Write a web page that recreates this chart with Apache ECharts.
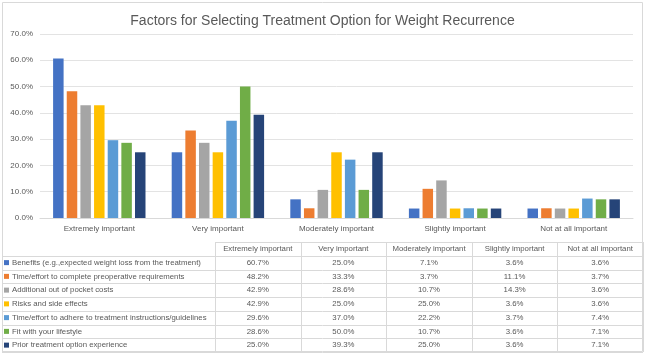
<!DOCTYPE html>
<html>
<head>
<meta charset="utf-8">
<script src="https://cdn.jsdelivr.net/npm/echarts@6/dist/echarts.min.js"></script>
<style>html,body{margin:0;padding:0;background:#fff}#c{width:645px;height:354px}</style>
</head>
<body>
<div id="c"></div>
<script>
const categories = ['Extremely important','Very important','Moderately important','Slightly important','Not at all important'];
const seriesNames = [
  'Benefits (e.g.,expected weight loss from the treatment)',
  'Time/effort to complete preoperative requirements',
  'Additional out of pocket costs',
  'Risks and side effects',
  'Time/effort to adhere to treatment instructions/guidelines',
  'Fit with your lifestyle',
  'Prior treatment option experience'
];
const benefits   = [60.7, 25.0, 7.1, 3.6, 3.6];
const timePreop  = [48.2, 33.3, 3.7, 11.1, 3.7];
const costs      = [42.9, 28.6, 10.7, 14.3, 3.6];
const risks      = [42.9, 25.0, 25.0, 3.6, 3.6];
const adhere     = [29.6, 37.0, 22.2, 3.7, 7.4];
const lifestyle  = [28.6, 50.0, 10.7, 3.6, 7.1];
const prior      = [25.0, 39.3, 25.0, 3.6, 7.1];
const yTicks = [0, 10, 20, 30, 40, 50, 60, 70];

const seriesData = [benefits, timePreop, costs, risks, adhere, lifestyle, prior];
const colors = ['#4472C4','#ED7D31','#A5A5A5','#FFC000','#5B9BD5','#70AD47','#264478'];
const FONT = '"Liberation Sans", Arial, sans-serif';
const TXT = '#595959';

// table layout
const tblTop = 242, rowH = 13.75, firstColL = 2, firstColR = 215, colW = 85.6;
const graphics = [];
graphics.push({type:'rect', shape:{x:2.5,y:2.5,width:640,height:349}, style:{fill:'none', stroke:'#d9d9d9', lineWidth:1}, silent:true});
const nRows = seriesNames.length + 1;
const tblRight = firstColR + colW * categories.length;
const tblBottom = tblTop + rowH * nRows;
for (let r = 0; r <= nRows; r++) {
  const y = Math.round(tblTop + r * rowH) + 0.5;
  const x1 = r === 0 ? firstColR : firstColL;
  graphics.push({type:'line', shape:{x1:x1, y1:y, x2:tblRight, y2:y}, style:{stroke:'#d9d9d9', lineWidth:1}, silent:true});
}
graphics.push({type:'line', shape:{x1:firstColL+0.5, y1:tblTop+rowH, x2:firstColL+0.5, y2:tblBottom}, style:{stroke:'#d9d9d9', lineWidth:1}, silent:true});
for (let c = 0; c <= categories.length; c++) {
  const x = Math.round(firstColR + c * colW) + 0.5;
  graphics.push({type:'line', shape:{x1:x, y1:tblTop, x2:x, y2:tblBottom}, style:{stroke:'#d9d9d9', lineWidth:1}, silent:true});
}
categories.forEach((cat, c) => {
  graphics.push({type:'text', x: firstColR + (c + 0.5) * colW, y: tblTop + rowH / 2,
    style:{text:cat, fill:TXT, font:'7.8px ' + FONT, align:'center', verticalAlign:'middle'}, silent:true});
});
seriesNames.forEach((name, r) => {
  const cy = tblTop + (r + 1.5) * rowH;
  graphics.push({type:'rect', shape:{x:4, y:cy-2.5, width:5, height:5}, style:{fill:colors[r]}, silent:true});
  graphics.push({type:'text', x:12, y:cy, style:{text:name, fill:TXT, font:'7.8px ' + FONT, align:'left', verticalAlign:'middle'}, silent:true});
  seriesData[r].forEach((v, c) => {
    graphics.push({type:'text', x: firstColR + (c + 0.5) * colW, y: cy,
      style:{text:v.toFixed(1) + '%', fill:TXT, font:'7.8px ' + FONT, align:'center', verticalAlign:'middle'}, silent:true});
  });
});

const chart = echarts.init(document.getElementById('c'));
chart.setOption({
  animation:false,
  title:{text:'Factors for Selecting Treatment Option for Weight Recurrence', left:'center', top:9,
    textStyle:{fontFamily:FONT, fontSize:14, fontWeight:'normal', color:TXT}},
  grid:{left:40, right:12, top:34, bottom:136, containLabel:false},
  xAxis:{type:'category', data:categories,
    axisLine:{lineStyle:{color:'#d9d9d9'}}, axisTick:{show:false},
    axisLabel:{color:TXT, fontFamily:FONT, fontSize:8, margin:7}},
  yAxis:{type:'value', min:yTicks[0], max:yTicks[yTicks.length-1], interval:10,
    axisLine:{show:false}, axisTick:{show:false},
    splitLine:{lineStyle:{color:'#e3e3e3'}},
    axisLabel:{color:TXT, fontFamily:FONT, fontSize:8, margin:7, formatter:v => v.toFixed(1) + '%'}},
  series: seriesNames.map((n, i) => ({
    name:n, type:'bar', data:seriesData[i], barWidth:10.5, barGap:'30%',
    itemStyle:{color:colors[i]}
  })),
  graphic: graphics
});
</script>
</body>
</html>
